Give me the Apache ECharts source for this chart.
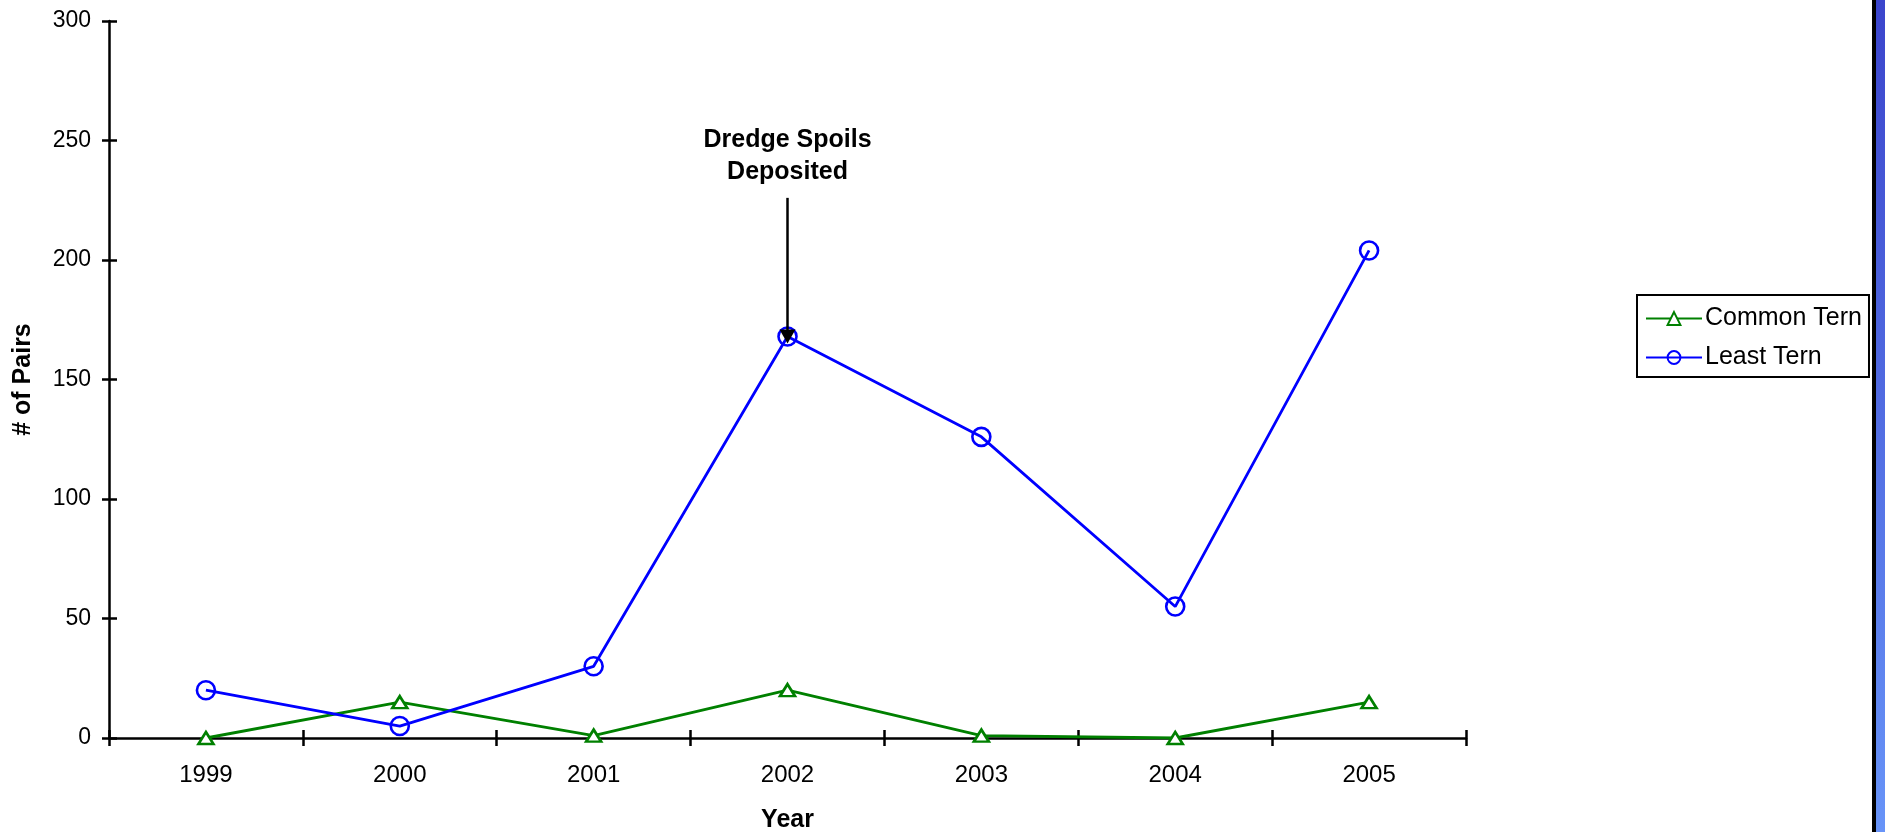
<!DOCTYPE html>
<html>
<head>
<meta charset="utf-8">
<title>Tern nesting pairs, 1999–2005</title>
<script src="https://cdn.jsdelivr.net/npm/echarts@6/dist/echarts.min.js"></script>
<style>
  html, body { margin: 0; padding: 0; background: #ffffff; }
  #chart { width: 1885px; height: 832px; }
</style>
</head>
<body>
<div id="chart"></div>
<script>
// Nesting pairs per year
const years = ['1999', '2000', '2001', '2002', '2003', '2004', '2005'];
const commonTern = [0, 15, 1, 20, 1, 0, 15];
const leastTern = [20, 5, 30, 168, 126, 55, 204];
const yTicks = { min: 0, max: 300, interval: 50 };

// Annotation: year and the span of the arrow (in pairs)
const noteYear = '2002';
const noteText = 'Dredge Spoils\nDeposited';
const noteFrom = 226;
const noteTo = 168;

const FONT = '"Liberation Sans", Arial, sans-serif';
const chart = echarts.init(document.getElementById('chart'), null, { renderer: 'canvas' });

const axisLineStyle = { color: '#000', width: 2.5 };
const tickStyle = { color: '#000', width: 2.5 };

chart.setOption({
  animation: false,
  backgroundColor: '#ffffff',
  textStyle: { fontFamily: FONT, color: '#000' },
  grid: { left: 109, right: 419, top: 21, bottom: 94, outerBoundsMode: 'none', containLabel: false },
  legend: {
    orient: 'vertical',
    left: 1637,
    top: 295,
    padding: [11, 7, 7, 8],
    itemGap: 14,
    itemWidth: 56,
    itemHeight: 16,
    borderColor: '#000',
    borderWidth: 2,
    backgroundColor: '#fff',
    textStyle: { fontFamily: FONT, fontSize: 25, color: '#000', padding: [0, 0, 0, -2] },
    data: ['Common Tern', 'Least Tern']
  },
  xAxis: [
    {
      type: 'category',
      data: years,
      boundaryGap: true,
      name: 'Year',
      nameLocation: 'middle',
      nameGap: 70,
      nameTextStyle: { fontFamily: FONT, fontSize: 25, fontWeight: 'bold', color: '#000' },
      axisLine: { lineStyle: axisLineStyle },
      axisTick: { show: true, length: 8, lineStyle: tickStyle },
      axisLabel: { fontFamily: FONT, fontSize: 24, color: '#000', margin: 25 },
      splitLine: { show: false }
    },
    {
      // inner half of the crossing ticks
      type: 'category',
      data: years,
      position: 'bottom',
      boundaryGap: true,
      axisLine: { show: false },
      axisTick: { show: true, inside: true, length: 8, lineStyle: tickStyle },
      axisLabel: { show: false },
      splitLine: { show: false }
    }
  ],
  yAxis: [
    {
      type: 'value',
      min: yTicks.min,
      max: yTicks.max,
      interval: yTicks.interval,
      name: '# of Pairs',
      nameLocation: 'middle',
      nameGap: 73,
      nameRotate: 90,
      nameTextStyle: { fontFamily: FONT, fontSize: 25, fontWeight: 'bold', color: '#000' },
      axisLine: { show: true, lineStyle: axisLineStyle },
      axisTick: { show: true, length: 7, lineStyle: tickStyle },
      axisLabel: { fontFamily: FONT, fontSize: 23, color: '#000', margin: 18 },
      splitLine: { show: false }
    },
    {
      type: 'value',
      position: 'left',
      min: yTicks.min,
      max: yTicks.max,
      interval: yTicks.interval,
      axisLine: { show: false },
      axisTick: { show: true, inside: true, length: 8, lineStyle: tickStyle },
      axisLabel: { show: false },
      splitLine: { show: false }
    }
  ],
  series: [
    {
      name: 'Common Tern',
      type: 'line',
      data: commonTern,
      color: '#008000',
      symbol: 'triangle',
      symbolSize: [15, 12],
      itemStyle: { color: '#ffffff', borderColor: '#008000', borderWidth: 2.6 },
      lineStyle: { color: '#008000', width: 2.8 },
      z: 3
    },
    {
      name: 'Least Tern',
      type: 'line',
      data: leastTern,
      color: '#0000ff',
      symbol: 'circle',
      symbolSize: 18,
      itemStyle: { color: 'rgba(255,255,255,0)', borderColor: '#0000ff', borderWidth: 2.6 },
      lineStyle: { color: '#0000ff', width: 2.8 },
      z: 4,
      markLine: {
        silent: true,
        animation: false,
        symbol: ['none', 'triangle'],
        symbolSize: [16, 14],
        lineStyle: { color: '#000', width: 2.5, type: 'solid' },
        label: {
          show: true,
          position: 'start',
          distance: 10,
          formatter: noteText,
          fontFamily: FONT,
          fontSize: 25,
          fontWeight: 'bold',
          lineHeight: 32,
          color: '#000',
          align: 'center'
        },
        emphasis: { disabled: true },
        data: [[
          { coord: [noteYear, noteFrom] },
          { coord: [noteYear, noteTo] }
        ]]
      }
    }
  ],
  graphic: [
    // frame edge on the right
    { type: 'rect', z: 100, shape: { x: 1872, y: 0, width: 4, height: 832 }, style: { fill: '#000' } },
    {
      type: 'rect', z: 100,
      shape: { x: 1876, y: 0, width: 9, height: 832 },
      style: {
        fill: new echarts.graphic.LinearGradient(0, 0, 0, 1, [
          { offset: 0, color: '#3b45cc' },
          { offset: 1, color: '#6894f8' }
        ])
      }
    }
  ]
});
</script>
</body>
</html>
